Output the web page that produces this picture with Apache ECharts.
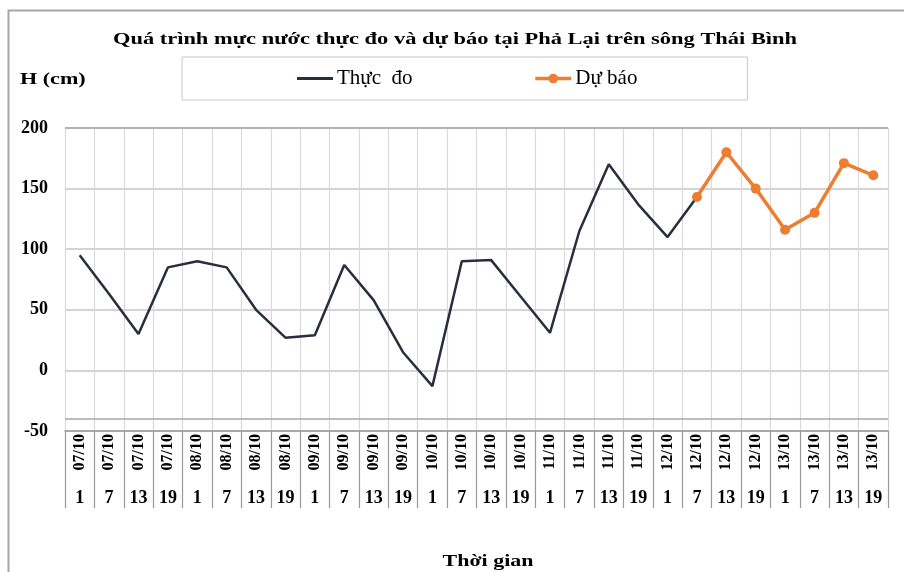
<!DOCTYPE html>
<html>
<head>
<meta charset="utf-8">
<script src="https://cdn.jsdelivr.net/npm/echarts@6/dist/echarts.min.js"></script>
<style>
html,body{margin:0;padding:0;background:#fff;}
#c{width:904px;height:572px;}
</style>
</head>
<body>
<div id="c"></div>
<script>
const dates = ['07/10','07/10','07/10','07/10','08/10','08/10','08/10','08/10','09/10','09/10','09/10','09/10','10/10','10/10','10/10','10/10','11/10','11/10','11/10','11/10','12/10','12/10','12/10','12/10','13/10','13/10','13/10','13/10'];
const hours = ['1','7','13','19','1','7','13','19','1','7','13','19','1','7','13','19','1','7','13','19','1','7','13','19','1','7','13','19'];
const thucDo = [95, 63, 30, 85, 90, 85, 50, 27, 29, 87, 58, 15, -13, 90, 91, 61, 31, 115, 170, 137, 110, 143, null, null, null, null, null, null];
const duBao = [null, null, null, null, null, null, null, null, null, null, null, null, null, null, null, null, null, null, null, null, null, 143, 180, 150, 116, 130, 171, 161];
const yTicks = {min: -50, max: 200, interval: 50};

const FONT = "'Liberation Serif', 'Times New Roman', serif";
const chart = echarts.init(document.getElementById('c'));
chart.setOption({
  animation: false,
  backgroundColor: '#fff',
  legend: {
    left: 182, top: 57,
    padding: [11, 110, 11, 115],
    itemGap: 121,
    itemWidth: 36, itemHeight: 12,
    borderColor: '#c8c8c8', borderWidth: 1,
    textStyle: {fontFamily: FONT, fontSize: 21, color: '#000', padding: [0, 0, 0, -1]},
    data: [
      {name: 'Thực  đo', icon: 'path://M0 0H120V10H0Z'},
      {name: 'Dự báo', lineStyle: {width: 3.5}}
    ]
  },
  graphic: [
    {type: 'rect', shape: {x: 8.5, y: 10.5, width: 910, height: 580}, style: {fill: null, stroke: '#a6a6a6', lineWidth: 2}, silent: true},
    {type: 'text', x: 455, y: 31, scaleX: 1.32,
      style: {text: 'Quá trình mực nước thực đo và dự báo tại Phả Lại trên sông Thái Bình', textAlign: 'center', font: "bold 17px 'Liberation Serif'", fill: '#000'}},
    {type: 'text', x: 20, y: 71, scaleX: 1.3, style: {text: 'H (cm)', font: "bold 17px 'Liberation Serif'", fill: '#000'}},
    {type: 'text', x: 488, y: 553, scaleX: 1.29, style: {text: 'Thời gian', textAlign: 'center', font: "bold 17px 'Liberation Serif'", fill: '#000'}}
  ],
  grid: {left: 65, right: 16, top: 128, bottom: 141, containLabel: false},
  xAxis: [
    {
      type: 'category', data: dates, position: 'bottom', boundaryGap: true,
      axisLine: {show: true, onZero: false, lineStyle: {color: '#999', width: 1.5}},
      axisTick: {show: true, interval: 0, length: 77, lineStyle: {color: '#999', width: 1.2}},
      axisLabel: {interval: 0, rotate: 90, margin: 3, fontFamily: FONT, fontWeight: 'bold', fontSize: 16, color: '#000'},
      splitLine: {show: true, interval: 0, lineStyle: {color: '#d9d9d9', width: 1.2}}
    },
    {
      type: 'category', data: hours, position: 'bottom', boundaryGap: true,
      axisLine: {show: false, onZero: false}, axisTick: {show: false},
      axisLabel: {interval: 0, margin: 58, fontFamily: FONT, fontWeight: 'bold', fontSize: 18, color: '#000'},
      splitLine: {show: false}
    }
  ],
  yAxis: {
    type: 'value', min: yTicks.min, max: yTicks.max, interval: yTicks.interval,
    axisLine: {show: false}, axisTick: {show: false},
    axisLabel: {margin: 17, fontFamily: FONT, fontWeight: 'bold', fontSize: 18, color: '#000'},
    splitLine: {show: true, lineStyle: {color: '#c6c6c6', width: 1.5}}
  },
  series: [
    {
      name: 'Thực  đo', type: 'line', data: thucDo, xAxisIndex: 0,
      symbol: 'none', connectNulls: false,
      lineStyle: {color: '#262f3d', width: 2.5}, itemStyle: {color: '#262f3d'},
      markLine: {silent: true, symbol: 'none', label: {show: false},
        lineStyle: {color: '#a6a6a6', type: 'solid', width: 1.5},
        data: [{yAxis: -40}, {yAxis: 200}]},
      z: 3
    },
    {
      name: 'Dự báo', type: 'line', data: duBao, xAxisIndex: 0,
      symbol: 'circle', symbolSize: 10, showSymbol: true,
      lineStyle: {color: '#ED7D31', width: 3.5}, itemStyle: {color: '#ED7D31'},
      z: 4
    }
  ]
});
</script>
</body>
</html>
